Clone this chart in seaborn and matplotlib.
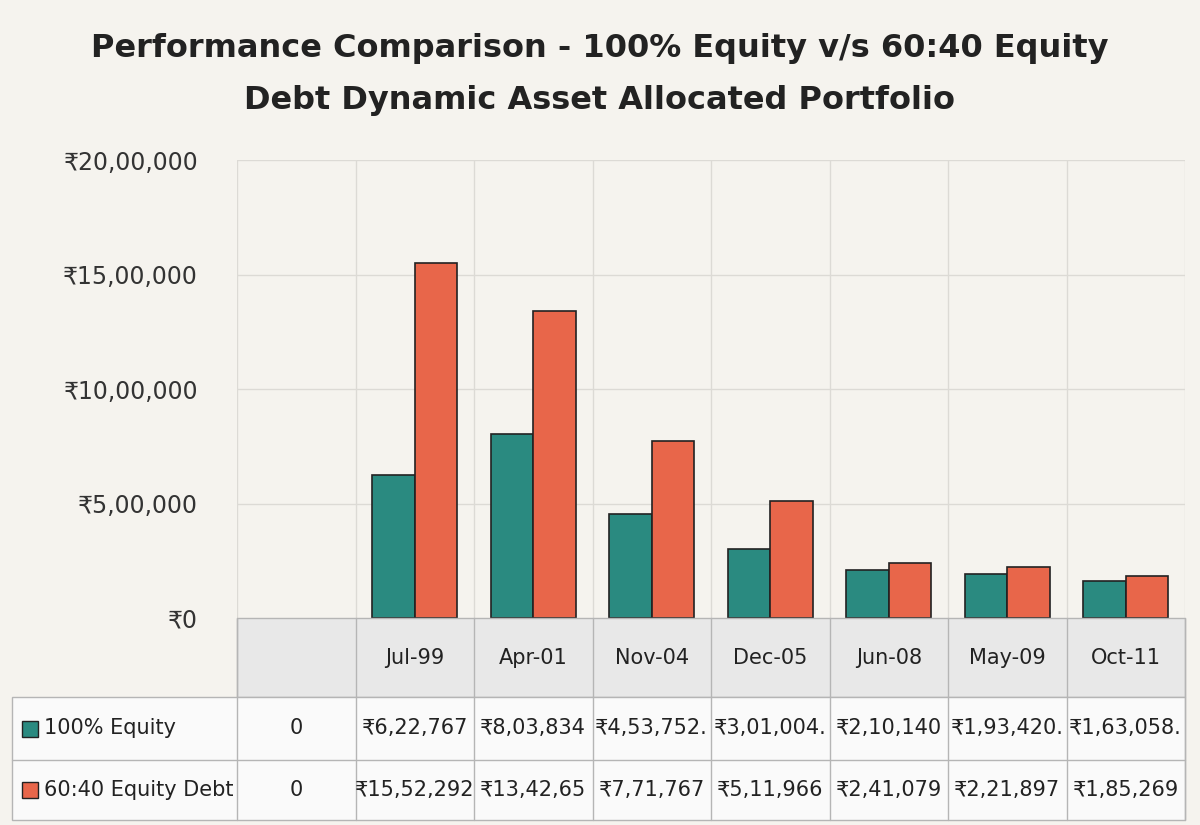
import matplotlib
matplotlib.use("Agg")
import matplotlib.pyplot as plt
from matplotlib.patches import Rectangle
import seaborn as sns
import pandas as pd

# data
categories = [" ", "Jul-99", "Apr-01", "Nov-04", "Dec-05", "Jun-08", "May-09", "Oct-11"]
equity = [0, 622767, 803834, 453752, 301004, 210140, 193420, 163058]
balanced = [0, 1552292, 1342650, 771767, 511966, 241079, 221897, 185269]
equity_text = ["0", "₹6,22,767", "₹8,03,834", "₹4,53,752.", "₹3,01,004.", "₹2,10,140", "₹1,93,420.", "₹1,63,058."]
balanced_text = ["0", "₹15,52,292", "₹13,42,65", "₹7,71,767", "₹5,11,966", "₹2,41,079", "₹2,21,897", "₹1,85,269"]
series = ["100% Equity", "60:40 Equity Debt"]
colors = ["#2a8a80", "#e8664a"]
yticks = [0, 500000, 1000000, 1500000, 2000000]
ytick_labels = ["₹0", "₹5,00,000", "₹10,00,000", "₹15,00,000", "₹20,00,000"]

bg = "#f5f3ee"
sns.set_theme(style="white")
plt.rcParams["font.family"] = ["DejaVu Sans", "Noto Sans"]

df = pd.DataFrame({
    "cat": categories * 2,
    "value": equity + balanced,
    "series": [series[0]] * len(categories) + [series[1]] * len(categories),
})

W, H = 1200, 825
fig = plt.figure(figsize=(12, 8.25), dpi=100, facecolor=bg)

x0, x1, y0, y1 = 237, 1185, 618, 160
ax = fig.add_axes([x0 / W, 1 - y0 / H, (x1 - x0) / W, (y0 - y1) / H])
ax.set_facecolor(bg)
sns.barplot(data=df, x="cat", y="value", hue="series", order=categories,
            hue_order=series, palette=colors, saturation=1, width=0.72,
            edgecolor="#222222", linewidth=1.2, legend=False, ax=ax, zorder=3)
for b in ax.patches:
    if b.get_height() == 0:
        b.set_visible(False)
ax.set_ylim(0, 2000000)
ax.set_xlim(-0.5, len(categories) - 0.5)
ax.set_yticks(yticks)
ax.set_yticklabels(ytick_labels, fontsize=17, color="#333333")
ax.tick_params(axis="y", length=0, pad=28)
ax.set_xticks([])
ax.set_xlabel("")
ax.set_ylabel("")
for y in yticks[1:]:
    ax.axhline(y, color="#dcdad5", lw=1, zorder=0)
for i in range(len(categories) + 1):
    ax.axvline(i - 0.5, color="#dcdad5", lw=1, zorder=0)
for s in ax.spines.values():
    s.set_visible(False)

# data table below
tax = fig.add_axes([0, 0, 1, 1])
tax.set_xlim(0, W)
tax.set_ylim(H, 0)
tax.axis("off")
colw = (x1 - x0) / len(categories)
rows = [618, 697, 760, 820]
line = "#b5b5b5"
tax.add_patch(Rectangle((x0, rows[0]), x1 - x0, rows[1] - rows[0], facecolor="#e8e8e8",
                        edgecolor=line, lw=1))
tax.add_patch(Rectangle((12, rows[1]), x1 - 12, rows[3] - rows[1], facecolor="#fafafa",
                        edgecolor=line, lw=1))
tax.plot([12, x1], [rows[2], rows[2]], color=line, lw=1)
for i in range(len(categories) + 1):
    xx = x0 + i * colw
    tax.plot([xx, xx], [rows[0], rows[3]], color=line, lw=1)
for i, c in enumerate(categories):
    cx = x0 + (i + 0.5) * colw
    tax.text(cx, (rows[0] + rows[1]) / 2, c, ha="center", va="center", fontsize=15, color="#222222")
    tax.text(cx, (rows[1] + rows[2]) / 2, equity_text[i], ha="center", va="center", fontsize=15, color="#222222")
    tax.text(cx, (rows[2] + rows[3]) / 2, balanced_text[i], ha="center", va="center", fontsize=15, color="#222222")
for r, name, col in [(0, series[0], colors[0]), (1, series[1], colors[1])]:
    cy = (rows[1 + r] + rows[2 + r]) / 2
    tax.add_patch(Rectangle((22, cy - 8), 16, 16, facecolor=col, edgecolor="#222222", lw=1))
    tax.text(44, cy, name, ha="left", va="center", fontsize=15, color="#222222")

fig.text(0.5, 1 - 48 / H, "Performance Comparison - 100% Equity v/s 60:40 Equity",
         ha="center", va="center", fontsize=23, fontweight="bold", color="#222222")
fig.text(0.5, 1 - 100 / H, "Debt Dynamic Asset Allocated Portfolio",
         ha="center", va="center", fontsize=23, fontweight="bold", color="#222222")

fig.savefig("out.png", dpi=100, facecolor=bg)
